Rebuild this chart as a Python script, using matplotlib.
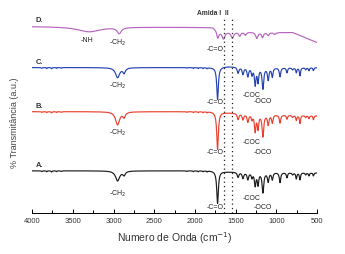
#Espectros FTIR (4 amostras deslocadas verticalmente)
import matplotlib
matplotlib.use("Agg")
import matplotlib.pyplot as plt
import numpy as np

plt.rcParams['font.family'] = ['Liberation Sans', 'DejaVu Sans']

#1. Dados (bandas: centro cm-1, profundidade, meia largura)
samples = ["A.", "B.", "C.", "D."]
colors = ["#1c1c1c", "#e8412f", "#2443b0", "#b565bf"]

# linhas de base (cm-1, valor) por amostra
base_A = [(4000, 42), (1800, 42), (1600, 41), (500, 40)]
base_B = [(4000, 101), (1800, 101), (1600, 100), (1000, 98), (500, 97)]
base_C = [(4000, 145), (1800, 145), (1600, 146), (1000, 145), (500, 145)]
base_D = [(4000, 186), (1780, 185), (1700, 181), (1000, 180), (800, 180), (500, 170)]

# ruído leve lido no início e perto de 2000 cm-1
wiggles = [(3880, 0.8, 6), (3820, 1.0, 5), (3760, 1.2, 6), (3700, 0.8, 5),
           (3640, 0.7, 6), (2100, 0.6, 5), (2020, 0.8, 5), (1960, 0.9, 5),
           (1900, 0.8, 5), (1850, 0.9, 5)]

peaks_A = [(2950, 10, 30), (2870, 4, 18), (1722, 32, 12),
           (1470, 5, 12), (1410, 6, 12), (1350, 7, 12), (1300, 5, 10),
           (1260, 13, 11), (1225, 12, 10), (1165, 20, 12), (1100, 9, 11),
           (1050, 7, 10), (955, 10, 10), (870, 5, 9), (800, 2, 10),
           (755, 6, 8), (710, 7, 8), (640, 2, 8), (600, 3, 8), (545, 3, 7)]
peaks_B = [(2950, 13, 30), (2870, 5, 18), (1722, 37, 12),
           (1470, 6, 12), (1410, 6, 12), (1350, 8, 12), (1300, 5, 10),
           (1260, 17, 11), (1225, 14, 10), (1165, 22, 12), (1100, 10, 11),
           (1050, 8, 10), (955, 8, 10), (870, 4, 9), (800, 2, 10),
           (755, 5, 8), (710, 8, 8), (640, 2, 8), (600, 3, 8), (545, 4, 7)]
peaks_C = [(2950, 10, 30), (2870, 5, 18), (1722, 32, 12),
           (1470, 6, 12), (1410, 7, 12), (1350, 9, 12), (1300, 7, 10),
           (1260, 17, 11), (1225, 14, 10), (1165, 21, 12), (1100, 12, 11),
           (1050, 9, 10), (955, 9, 10), (870, 5, 9), (800, 2, 10),
           (755, 5, 8), (710, 8, 8), (640, 2, 8), (600, 3, 8), (545, 3, 7)]
peaks_D = [(3300, 5, 170), (2930, 6, 30), (1720, 7, 14), (1650, 7, 20),
           (1540, 6, 20), (1450, 4, 14), (1380, 3, 14), (1240, 6, 16),
           (1170, 5, 14), (1100, 3, 14), (1020, 2, 14)]

#2. Construção dos espectros
wn = np.arange(4000, 499, -2.0)

def spectrum(base, peaks):
    bx = [p[0] for p in base][::-1]
    by = [p[1] for p in base][::-1]
    y = np.interp(wn, bx, by)
    for c, d, w in peaks:
        y = y - d * w**2 / ((wn - c)**2 + w**2)
    return y

bases = [base_A, base_B, base_C, base_D]
peak_sets = [peaks_A + wiggles, peaks_B + wiggles, peaks_C + wiggles, peaks_D]

#3. Figura
fig = plt.figure(figsize=(3.45, 2.55), dpi=100)
ax = fig.add_axes([0.093, 0.161, 0.826, 0.81])

for name, col, base, pk in zip(samples, colors, bases, peak_sets):
    y = spectrum(base, pk)
    ax.plot(wn, y, color=col, lw=0.85)
    ax.text(3955, base[0][1] + 3, name, fontsize=5.5, fontweight='bold',
            color='#333333', ha='left', va='bottom')

# linhas de amida I e II
ax.vlines([1640, 1545], 0, 194, colors='#222222', linestyles=(0, (1, 2.5)), lw=0.9)
ax.text(1590, 196, "Amida I  II", fontsize=4.8, fontweight='bold',
        color='#333333', ha='right', va='bottom')

# rótulos das bandas
small = dict(fontsize=5, color='#222222', ha='center', va='center')
ax.text(3320, 173, "-NH", **small)
for yb in [171, 128, 81, 20]:
    ax.text(2950, yb, "-CH$_2$", **small)
for yb in [164, 111, 61, 6]:
    ax.text(1745, yb, "-C=O", **small)
for yc, yo in [(118, 112), (71, 61), (15, 6)]:
    ax.text(1300, yc, "-COC", **small)
    ax.text(1170, yo, "-OCO", **small)

ax.set_xlim(4000, 500)
ax.set_ylim(0, 206)
ax.set_xticks(np.arange(4000, 499, -500))
ax.set_xticks(np.arange(3750, 500, -500), minor=True)
ax.tick_params(axis='x', direction='in', length=3, width=0.7, labelsize=5.5,
               labelcolor='#333333', pad=3)
ax.tick_params(axis='x', which='minor', direction='in', length=2, width=0.7)
ax.set_yticks([])
for s in ['left', 'top', 'right']:
    ax.spines[s].set_visible(False)
ax.spines['bottom'].set_linewidth(0.7)

ax.set_xlabel("Numero de Onda (cm$^{-1}$)", fontsize=7.5, color='#333333', labelpad=4)
fig.text(0.043, 0.52, "% Transmitância (a.u.)", rotation=90, fontsize=6.5,
         color='#444444', ha='center', va='center')

plt.savefig("out.png", dpi=100)
